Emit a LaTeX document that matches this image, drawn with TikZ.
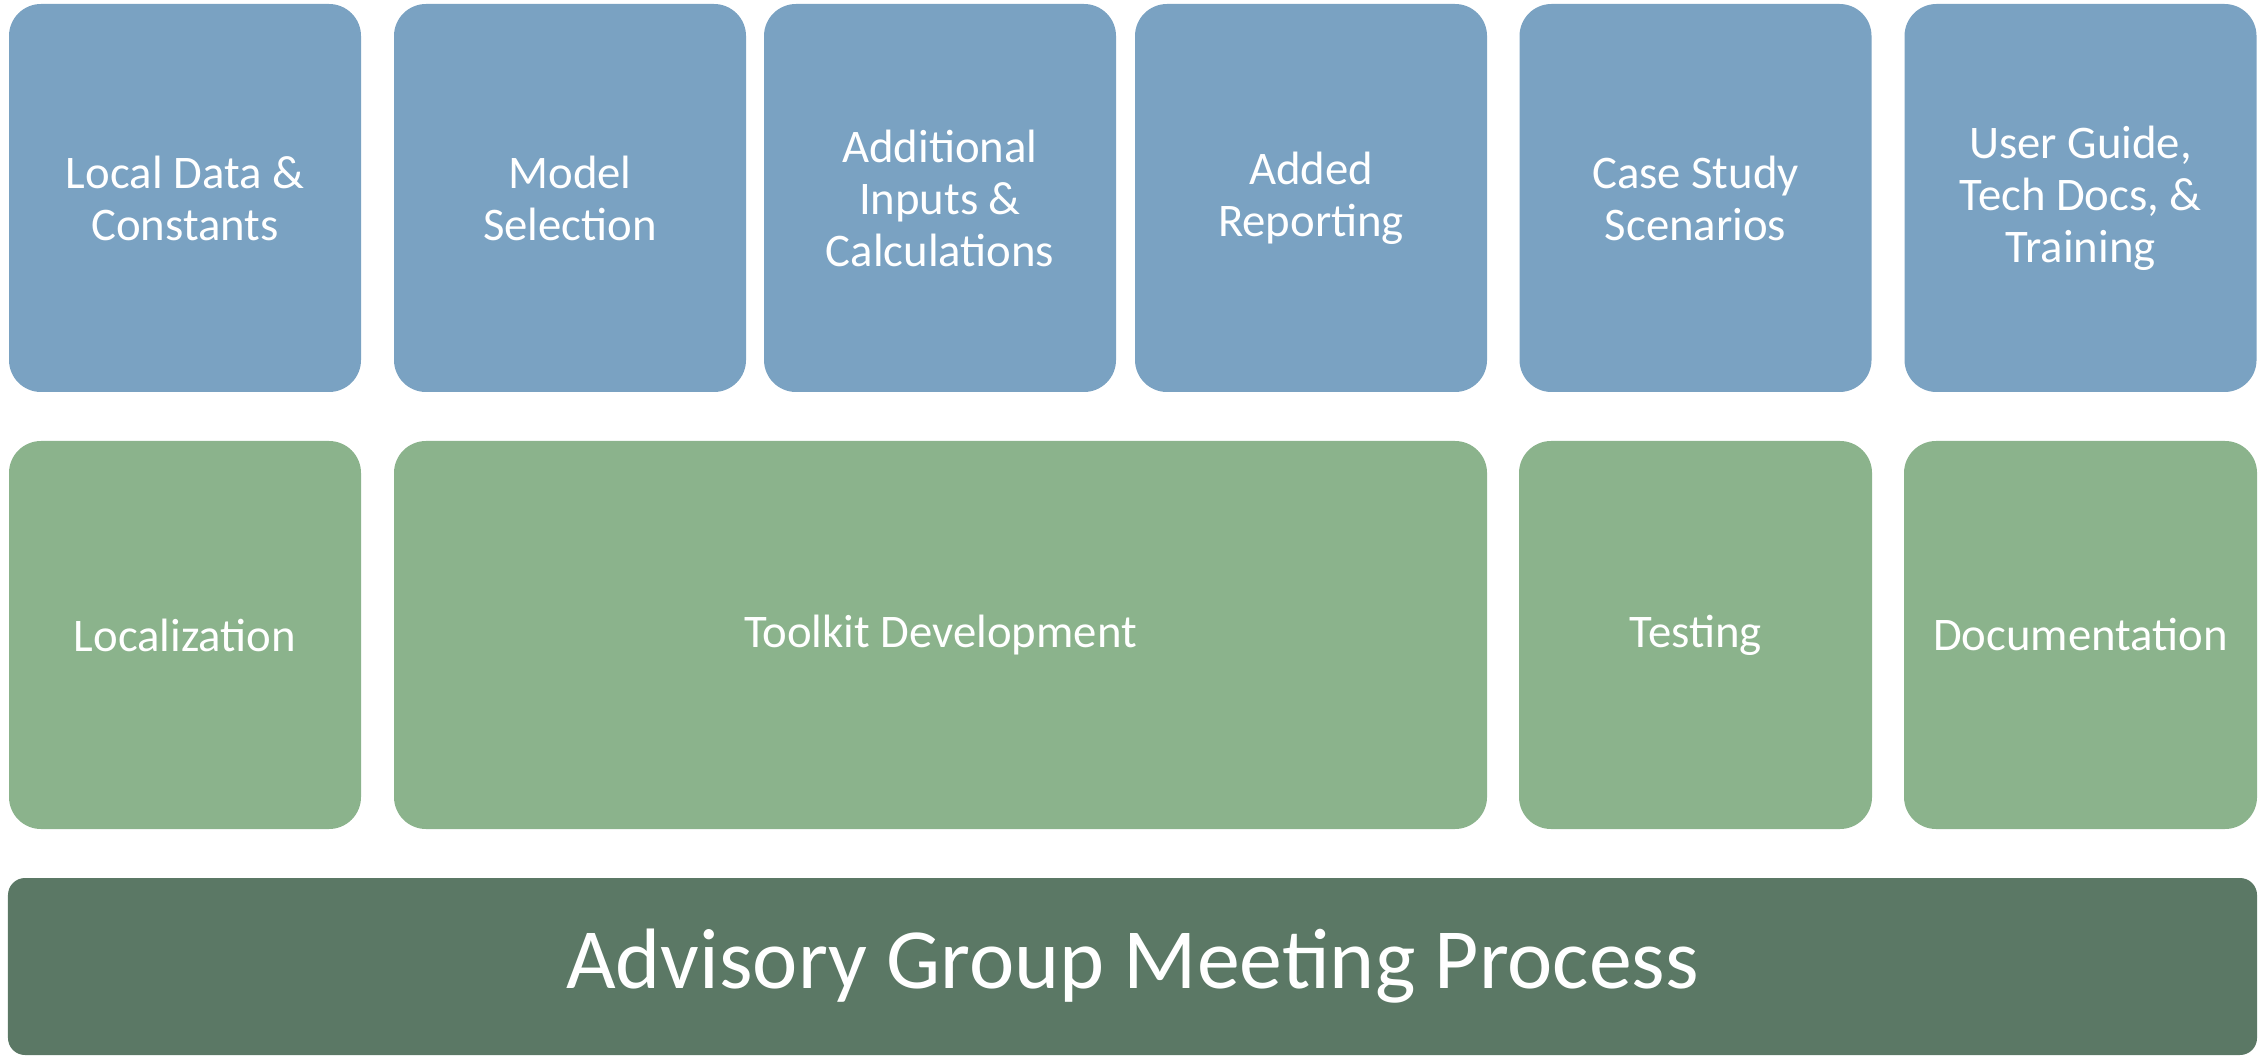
\documentclass[tikz,border=0pt]{standalone}
\usepackage{fontspec}
\setmainfont{Carlito}
\definecolor{taskblue}{HTML}{7AA2C2}
\definecolor{phasegreen}{HTML}{8BB38C}
\definecolor{basegreen}{HTML}{5B7865}
\begin{document}
\begin{tikzpicture}
		[every node/.style={inner sep=0pt,outer sep=0pt,text=white,align=center},
		 taskbox/.style={fill=taskblue,rounded corners=0.32cm,minimum width=3.52cm,minimum height=3.88cm,font=\fontsize{13.3}{14.8}\selectfont},
		 phasebox/.style={fill=phasegreen,rounded corners=0.32cm,minimum height=3.88cm,font=\fontsize{13.3}{14.8}\selectfont},
		 basebox/.style={fill=basegreen,rounded corners=0.17cm,minimum width=22.49cm,minimum height=1.77cm,font=\fontsize{24.4}{30}\selectfont}]
		
		\useasboundingbox (0,0) rectangle (22.67,10.56);
		
		% top row: tasks
		\node[taskbox] (t1) at (1.85,8.58) {Local Data \&\\Constants};
		\node[taskbox] (t2) at (5.70,8.58) {Model\\Selection};
		\node[taskbox] (t3) at (9.40,8.58) {Additional\\Inputs \&\\Calculations};
		\node[taskbox] (t4) at (13.11,8.58) {Added\\Reporting};
		\node[taskbox] (t5) at (16.955,8.58) {Case Study\\Scenarios};
		\node[taskbox] (t6) at (20.805,8.58) {User Guide,\\Tech Docs, \&\\Training};
		
		% middle row: phases
		\node[phasebox,minimum width=3.52cm] (p1) at (1.85,4.21) {Localization};
		\node[phasebox,minimum width=10.93cm] (p2) at (9.405,4.21) {Toolkit Development};
		\node[phasebox,minimum width=3.53cm] (p3) at (16.955,4.21) {Testing};
		\node[phasebox,minimum width=3.53cm] (p4) at (20.805,4.21) {Documentation};
		
		% bottom bar
		\node[basebox] (base) at (11.325,0.895) {Advisory Group Meeting Process};
		
	\end{tikzpicture}
\end{document}
